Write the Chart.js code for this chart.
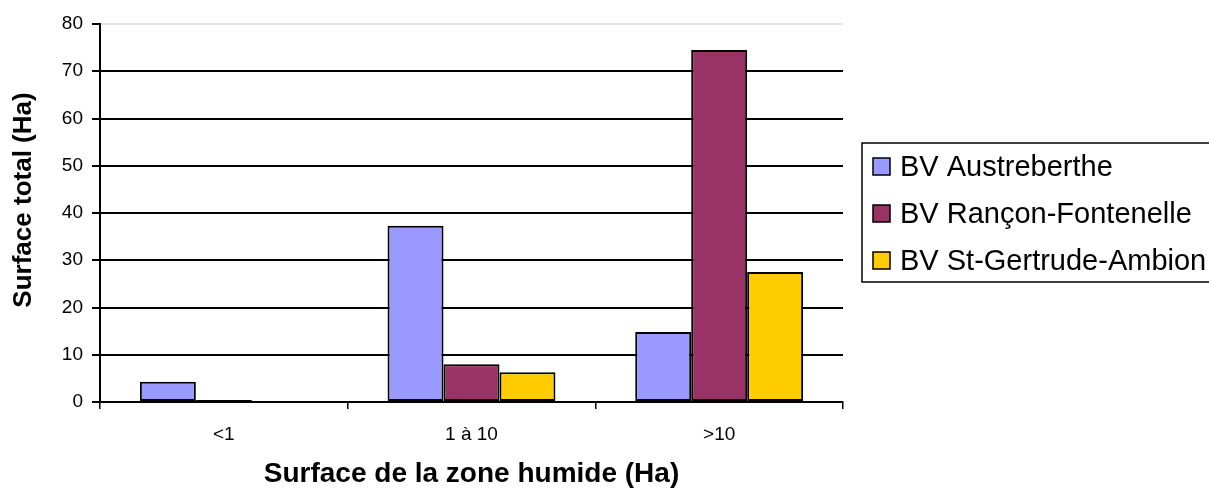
<!DOCTYPE html>
<html>
<head>
<meta charset="utf-8">
<script src="https://cdn.jsdelivr.net/npm/chart.js@4/dist/chart.umd.min.js"></script>
<style>
  html, body { margin: 0; padding: 0; background: #fff; }
  #wrap { width: 1209px; height: 497px; position: relative; }
</style>
</head>
<body>
<div id="wrap"><canvas id="c" width="1209" height="497"></canvas></div>
<script>
const categories = ['<1', '1 à 10', '>10'];
const seriesNames = ['BV Austreberthe', 'BV Rançon-Fontenelle', 'BV St-Gertrude-Ambion'];
const austreberthe = [4.3, 37.3, 14.8];
const ranconFontenelle = [0.4, 8.0, 74.5];
const stGertrudeAmbion = [0, 6.3, 27.5];
const seriesColors = ['#9999FF', '#993366', '#FFCC00'];
const yTitle = 'Surface total (Ha)';
const xTitle = 'Surface de la zone humide (Ha)';

const FONT = '"Liberation Sans", Arial, sans-serif';

const titlesAndLegend = {
  id: 'titlesAndLegend',
  afterDraw(chart) {
    const ctx = chart.ctx;
    const area = chart.chartArea;
    ctx.save();
    ctx.fillStyle = '#000';
    // Y axis title
    ctx.font = 'bold 26px ' + FONT;
    ctx.textAlign = 'center';
    ctx.textBaseline = 'middle';
    ctx.save();
    ctx.translate(24, 200);
    ctx.rotate(-Math.PI / 2);
    ctx.fillText(yTitle, 0, 0);
    ctx.restore();
    // X axis title
    ctx.font = 'bold 28px ' + FONT;
    ctx.fillText(xTitle, (area.left + area.right) / 2, 474);
    // Legend
    const lx = 862, ly = 143, lw = 360, lh = 139;
    ctx.lineWidth = 1.5;
    ctx.strokeStyle = '#000';
    ctx.strokeRect(lx, ly, lw, lh);
    ctx.font = '29px ' + FONT;
    ctx.textAlign = 'left';
    chart.data.datasets.forEach((ds, i) => {
      const cy = 167 + i * 47;
      ctx.fillStyle = ds.backgroundColor;
      ctx.fillRect(873, cy - 9, 17, 17);
      ctx.strokeRect(873, cy - 9, 17, 17);
      ctx.fillStyle = '#000';
      ctx.fillText(ds.label, 900, cy + 1);
    });
    ctx.restore();
  }
};

new Chart(document.getElementById('c'), {
  type: 'bar',
  data: {
    labels: categories,
    datasets: [
      { label: seriesNames[0], data: austreberthe, backgroundColor: seriesColors[0] },
      { label: seriesNames[1], data: ranconFontenelle, backgroundColor: seriesColors[1] },
      { label: seriesNames[2], data: stGertrudeAmbion, backgroundColor: seriesColors[2] }
    ]
  },
  options: {
    responsive: false,
    animation: false,
    devicePixelRatio: 1,
    layout: { padding: { left: 0, top: 24, right: 366, bottom: 0 } },
    datasets: {
      bar: {
        categoryPercentage: 0.678,
        barPercentage: 1.0,
        borderColor: '#000',
        borderWidth: 2,
        borderSkipped: false
      }
    },
    plugins: {
      legend: { display: false },
      tooltip: { enabled: false },
      title: { display: false }
    },
    scales: {
      x: {
        offset: true,
        grid: {
          display: true,
          offset: true,
          drawOnChartArea: false,
          drawTicks: true,
          tickLength: 7,
          color: '#000',
          tickColor: '#000',
          lineWidth: 1.5
        },
        border: { display: true, color: '#000', width: 2 },
        ticks: {
          color: '#000',
          font: { family: FONT, size: 19 },
          padding: 14,
          maxRotation: 0
        },
        afterFit(scale) { scale.height = 95; }
      },
      y: {
        min: 0,
        max: 80,
        ticks: {
          stepSize: 10,
          color: '#000',
          font: { family: FONT, size: 19 },
          padding: 9
        },
        grid: {
          color: (c) => (c.tick && c.tick.value === 80 ? '#e4e4e4' : '#000'),
          tickColor: '#000',
          lineWidth: 2,
          tickLength: 8,
          drawTicks: true
        },
        border: { display: true, color: '#000', width: 2 },
        afterFit(scale) { scale.width = 100; }
      }
    }
  },
  plugins: [titlesAndLegend]
});
</script>
</body>
</html>
